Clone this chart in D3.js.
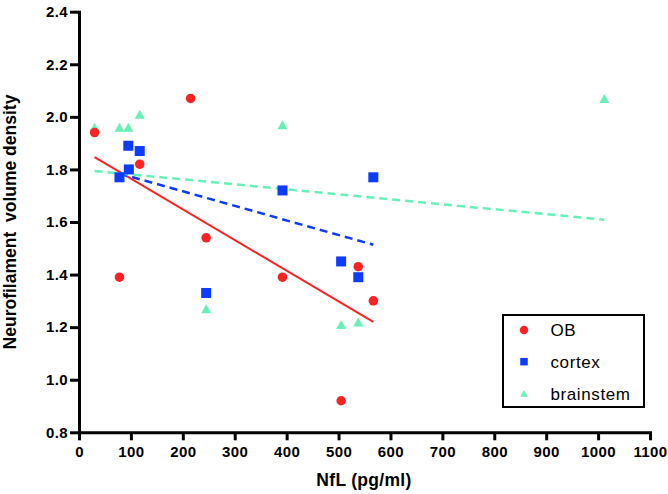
<!DOCTYPE html>
<html>
<head>
<meta charset="utf-8">
<script src="https://cdn.jsdelivr.net/npm/d3@7"></script>
<style>
  html, body { margin: 0; padding: 0; background: #fff; }
  svg { display: block; }
</style>
</head>
<body>
<svg id="chart" width="668" height="494"></svg>
<script>
// ---- Data ----
const obX = [30, 215, 117, 245, 78, 392, 505, 538, 567];
const obY = [1.94, 2.07, 1.82, 1.54, 1.39, 1.39, 0.92, 1.43, 1.30];

const cortexX = [78, 95, 96, 117, 392, 245, 505, 538, 567];
const cortexY = [1.77, 1.89, 1.80, 1.87, 1.72, 1.33, 1.45, 1.39, 1.77];

const brainstemX = [30, 78, 95, 117, 392, 245, 505, 538, 1012];
const brainstemY = [1.96, 1.96, 1.96, 2.01, 1.97, 1.27, 1.21, 1.22, 2.07];

const xTicks = [0, 100, 200, 300, 400, 500, 600, 700, 800, 900, 1000, 1100];
const yTicks = [0.8, 1.0, 1.2, 1.4, 1.6, 1.8, 2.0, 2.2, 2.4];

const seriesNames = ["OB", "cortex", "brainstem"];

// ---- Layout ----
const svg = d3.select("#chart");
const x = d3.scaleLinear().domain([0, 1100]).range([79, 650]);
const y = d3.scaleLinear().domain([0.8, 2.4]).range([432.3, 11.7]);

const colors = { OB: "#ff2222", cortex: "#0d3bff", brainstem: "#66f2b6" };

const series = [
  { name: "OB", xs: obX, ys: obY, shape: "circle", dash: null, width: 2 },
  { name: "cortex", xs: cortexX, ys: cortexY, shape: "square", dash: "8,5", width: 2.5 },
  { name: "brainstem", xs: brainstemX, ys: brainstemY, shape: "triangle", dash: "8,5", width: 2.5 }
];

function regression(xs, ys) {
  const mx = d3.mean(xs), my = d3.mean(ys);
  let sxy = 0, sxx = 0;
  xs.forEach((xv, i) => { sxy += (xv - mx) * (ys[i] - my); sxx += (xv - mx) * (xv - mx); });
  const b = sxy / sxx, a = my - b * mx;
  const [x0, x1] = d3.extent(xs);
  return [[x0, a + b * x0], [x1, a + b * x1]];
}

// ---- Axes ----
const font = "'Liberation Sans', Arial, Helvetica, sans-serif";

const xAxis = svg.append("g")
  .attr("transform", "translate(0,432.3)")
  .call(d3.axisBottom(x).tickValues(xTicks).tickFormat(d3.format("d"))
        .tickSize(8).tickSizeOuter(0).tickPadding(6));
const yAxis = svg.append("g")
  .attr("transform", "translate(79,0)")
  .call(d3.axisLeft(y).tickValues(yTicks).tickFormat(d3.format(".1f"))
        .tickSize(9).tickSizeOuter(0).tickPadding(2));

[xAxis, yAxis].forEach(g => {
  g.select(".domain").attr("stroke", "#000").attr("stroke-width", 3).attr("stroke-linecap", "square");
  g.selectAll(".tick line").attr("stroke", "#000").attr("stroke-width", 3);
  g.selectAll(".tick text")
    .attr("fill", "#000")
    .style("font-family", font)
    .style("font-weight", "bold")
    .style("font-size", "15px")
    .style("letter-spacing", "0.4px");
});

// Axis titles
svg.append("text")
  .attr("x", 364).attr("y", 485.5)
  .attr("text-anchor", "middle")
  .style("font-family", font).style("font-weight", "bold").style("font-size", "17.5px")
  .style("letter-spacing", "0.3px")
  .text("NfL (pg/ml)");

svg.append("text")
  .attr("transform", "translate(16,222) rotate(-90)")
  .attr("text-anchor", "middle")
  .style("font-family", font).style("font-weight", "bold").style("font-size", "17.5px")
  .style("white-space", "pre")
  .attr("xml:space", "preserve")
  .text("Neurofilament  volume density");

// ---- Regression lines ----
const lineGen = d3.line().x(d => x(d[0])).y(d => y(d[1]));
series.forEach(s => {
  svg.append("path")
    .datum(regression(s.xs, s.ys))
    .attr("d", lineGen)
    .attr("fill", "none")
    .attr("stroke", colors[s.name])
    .attr("stroke-width", s.width)
    .attr("stroke-dasharray", s.dash);
});

// ---- Markers ----
function drawMarker(g, shape, cx, cy, size, color) {
  if (shape === "circle") {
    g.append("circle").attr("cx", cx).attr("cy", cy).attr("r", size / 2).attr("fill", color);
  } else if (shape === "square") {
    g.append("rect").attr("x", cx - size / 2).attr("y", cy - size / 2)
      .attr("width", size).attr("height", size).attr("fill", color);
  } else {
    const h = size * 0.9;
    g.append("path")
      .attr("d", `M${cx},${cy - h / 2}L${cx + size / 2},${cy + h / 2}L${cx - size / 2},${cy + h / 2}Z`)
      .attr("fill", color);
  }
}

const pts = svg.append("g");
[series[2], series[1], series[0]].forEach(s => {
  s.xs.forEach((xv, i) => {
    drawMarker(pts, s.shape, x(xv), y(s.ys[i]), s.shape === "circle" ? 9.5 : 10, colors[s.name]);
  });
});

// ---- Legend ----
const leg = svg.append("g");
leg.append("rect")
  .attr("x", 503).attr("y", 315).attr("width", 141).attr("height", 92)
  .attr("fill", "#fff").attr("stroke", "#000").attr("stroke-width", 2);
series.forEach((s, i) => {
  const cy = 330 + i * 31.7;
  drawMarker(leg, s.shape, 524, cy, s.shape === "circle" ? 8.5 : 7.5, colors[s.name]);
  leg.append("text")
    .attr("x", 550.5).attr("y", cy)
    .attr("dy", "0.36em")
    .style("font-family", font).style("font-size", "17px")
    .style("letter-spacing", "0.6px")
    .text(seriesNames[i]);
});
</script>
</body>
</html>
